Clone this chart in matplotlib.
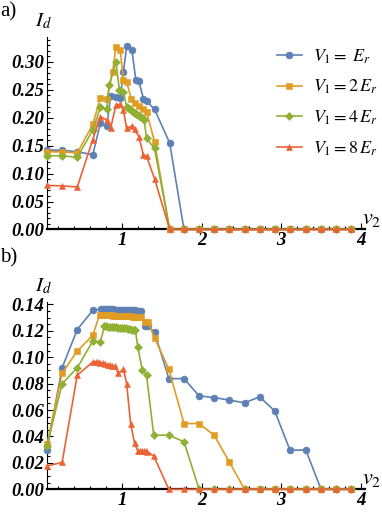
import matplotlib

matplotlib.use("Agg")

import matplotlib.pyplot as plt
from matplotlib.ticker import FixedLocator, MultipleLocator, FormatStrFormatter

plt.rcParams["mathtext.fontset"] = "stix"
plt.rcParams["font.family"] = ["Liberation Serif", "DejaVu Serif"]

COLORS = ["#5E81B5", "#E19C24", "#8FB032", "#EB6235"]
MARKERS = ["o", "s", "D", "^"]
MSIZES = [5.0, 4.2, 3.8, 4.6]
LABELS = [r"$V_1 = \ E_r$", r"$V_1 = 2\,E_r$", r"$V_1 = 4\,E_r$", r"$V_1 = 8\,E_r$"]

# tail of the v2 grid where every curve sits at zero
TAIL = [1.97, 2.16, 2.35, 2.54, 2.73, 2.92, 3.11, 3.31, 3.50, 3.69, 3.88]

# ---- panel a) ----
a_blue_x = [0.06, 0.25, 0.44, 0.635, 0.73, 0.81, 0.86, 0.925, 0.98, 1.02, 1.06, 1.125,
            1.175, 1.215, 1.27, 1.31, 1.41, 1.60, 1.78] + TAIL
a_blue_y = [0.142, 0.142, 0.139, 0.134, 0.190, 0.185, 0.239, 0.237, 0.236, 0.282, 0.328, 0.322,
            0.268, 0.265, 0.234, 0.230, 0.215, 0.155, 0.0] + [0.0] * len(TAIL)

a_orange_x = [0.06, 0.25, 0.44, 0.635, 0.73, 0.81, 0.885, 0.925, 0.98, 1.02, 1.06, 1.12,
              1.16, 1.215, 1.27, 1.31, 1.41, 1.60, 1.78] + TAIL
a_orange_y = [0.139, 0.139, 0.137, 0.188, 0.236, 0.233, 0.282, 0.327, 0.321, 0.268, 0.264, 0.233,
              0.226, 0.221, 0.215, 0.211, 0.157, 0.0, 0.0] + [0.0] * len(TAIL)

a_green_x = [0.06, 0.25, 0.44, 0.635, 0.73, 0.81, 0.84, 0.925, 0.97, 1.02, 1.06, 1.08,
             1.10, 1.12, 1.14, 1.16, 1.18, 1.20, 1.22, 1.24, 1.26, 1.28, 1.31, 1.41,
             1.60, 1.78] + TAIL
a_green_y = [0.132, 0.132, 0.129, 0.178, 0.219, 0.215, 0.258, 0.300, 0.249, 0.246, 0.219, 0.217,
             0.215, 0.213, 0.211, 0.209, 0.207, 0.205, 0.203, 0.201, 0.199, 0.196, 0.163, 0.145,
             0.0, 0.0] + [0.0] * len(TAIL)

a_red_x = [0.06, 0.25, 0.44, 0.635, 0.73, 0.81, 0.86, 0.925, 0.98, 1.02, 1.06, 1.125,
           1.16, 1.215, 1.27, 1.31, 1.41, 1.60, 1.78] + TAIL
a_red_y = [0.079, 0.078, 0.076, 0.161, 0.202, 0.196, 0.182, 0.222, 0.224, 0.213, 0.181, 0.185,
           0.179, 0.166, 0.133, 0.131, 0.091, 0.0, 0.0] + [0.0] * len(TAIL)

# ---- panel b) ----
b_blue_x = [0.06, 0.25, 0.44, 0.635, 0.74, 0.765, 0.79, 0.815, 0.84, 0.865, 0.89, 0.915,
            0.94, 0.965, 0.99, 1.015, 1.04, 1.065, 1.09, 1.115, 1.14, 1.165, 1.19, 1.215,
            1.24, 1.29, 1.33, 1.41, 1.59, 1.78] + TAIL
b_blue_y = [0.030, 0.092, 0.121, 0.1355, 0.1365, 0.1365, 0.1364, 0.1364, 0.1363, 0.1363, 0.1362, 0.1361,
            0.1361, 0.1360, 0.1360, 0.1359, 0.1358, 0.1358, 0.1357, 0.1356, 0.1355, 0.1355, 0.1354, 0.1353,
            0.1352, 0.1235, 0.1235, 0.119, 0.0838, 0.0838,
            0.0707, 0.0695, 0.0675, 0.0655, 0.0700, 0.0592, 0.0297, 0.0297, 0.0, 0.0, 0.0]

b_orange_x = [0.06, 0.25, 0.44, 0.635, 0.72, 0.745, 0.77, 0.795, 0.82, 0.845, 0.87, 0.895,
              0.92, 0.945, 0.97, 0.995, 1.02, 1.045, 1.07, 1.095, 1.12, 1.145, 1.17, 1.195,
              1.22, 1.245, 1.29, 1.33, 1.41, 1.59, 1.78] + TAIL
b_orange_y = [0.034, 0.088, 0.1047, 0.1166, 0.1322, 0.1321, 0.1320, 0.1320, 0.1319, 0.1318, 0.1317, 0.1316,
              0.1315, 0.1315, 0.1314, 0.1313, 0.1312, 0.1311, 0.1310, 0.1310, 0.1309, 0.1308, 0.1307, 0.1306,
              0.1306, 0.1305, 0.1266, 0.1266, 0.1148, 0.0909, 0.0498,
              0.0498, 0.0408, 0.0206, 0.0, 0.0, 0.0, 0.0, 0.0, 0.0, 0.0, 0.0]

b_green_x = [0.06, 0.25, 0.44, 0.635, 0.73, 0.78, 0.805, 0.83, 0.855, 0.88, 0.905, 0.93,
             0.955, 0.98, 1.005, 1.03, 1.055, 1.08, 1.105, 1.13, 1.155, 1.17, 1.20, 1.255,
             1.31, 1.40, 1.59, 1.78] + TAIL
b_green_y = [0.033, 0.080, 0.092, 0.1123, 0.1115, 0.1234, 0.1233, 0.1232, 0.1230, 0.1229, 0.1228, 0.1226,
             0.1225, 0.1223, 0.1222, 0.1220, 0.1218, 0.1216, 0.1213, 0.1210, 0.1207, 0.1203, 0.1078, 0.0906,
             0.0864, 0.041, 0.041, 0.036] + [0.0] * len(TAIL)

b_red_x = [0.06, 0.25, 0.44, 0.635, 0.67, 0.70, 0.73, 0.76, 0.79, 0.82, 0.85, 0.88,
           0.91, 0.955, 1.02, 1.06, 1.11, 1.16, 1.20, 1.225, 1.25, 1.275, 1.30, 1.32,
           1.40, 1.59, 1.78] + TAIL
b_red_y = [0.0176, 0.0204, 0.0864, 0.0964, 0.0966, 0.0962, 0.0960, 0.0955, 0.0950, 0.0945, 0.0940, 0.0935,
           0.0930, 0.0880, 0.0909, 0.0800, 0.0498, 0.0347, 0.0292, 0.0290, 0.0290, 0.0290, 0.0290, 0.0285,
           0.0252, 0.0, 0.0] + [0.0] * len(TAIL)

X_TICKS = [1, 2, 3, 4]
X_TICK_LABELS = ["1", "2", "3", "4"]


def style_axis(ax, ymax, ymajor, yminor):
    ax.set_xlim(0.06, 4.05)
    ax.set_ylim(0, ymax)
    for side in ["top", "right"]:
        ax.spines[side].set_visible(False)
    ax.spines["left"].set_linewidth(0.8)
    ax.spines["bottom"].set_linewidth(1.6)
    ax.xaxis.set_major_locator(FixedLocator(X_TICKS))
    ax.set_xticklabels(X_TICK_LABELS)
    ax.xaxis.set_minor_locator(MultipleLocator(0.2))
    ax.yaxis.set_major_locator(MultipleLocator(ymajor))
    ax.yaxis.set_minor_locator(MultipleLocator(yminor))
    ax.yaxis.set_major_formatter(FormatStrFormatter("%.2f"))
    ax.tick_params(which="both", direction="in", width=0.8)
    ax.tick_params(which="major", length=4, pad=2)
    ax.tick_params(which="minor", length=2)
    for lab in ax.get_xticklabels() + ax.get_yticklabels():
        lab.set_fontstyle("italic")
        lab.set_fontweight("bold")
        lab.set_fontsize(13.5)
    ax.text(-0.01, 1.03, r"$I_d$", transform=ax.transAxes, fontsize=15, ha="center", va="bottom")
    ax.text(0.99, 0.0, r"$v_2$", transform=ax.transAxes, fontsize=16, ha="left", va="bottom")


def draw_series(ax, series):
    handles = []
    for (xs, ys), color, marker, ms, label in zip(series, COLORS, MARKERS, MSIZES, LABELS):
        (h,) = ax.plot(xs, ys, color=color, marker=marker, markersize=ms, linewidth=1.2,
                       markeredgewidth=0.4, label=label, clip_on=False, zorder=3)
        handles.append(h)
    return handles


fig = plt.figure(figsize=(3.82, 5.18), dpi=100)
ax_a = fig.add_axes([0.123, 0.557, 0.832, 0.371])
ax_b = fig.add_axes([0.123, 0.0554, 0.832, 0.362])

handles = draw_series(ax_a, [(a_blue_x, a_blue_y), (a_orange_x, a_orange_y),
                             (a_green_x, a_green_y), (a_red_x, a_red_y)])
draw_series(ax_b, [(b_blue_x, b_blue_y), (b_orange_x, b_orange_y),
                   (b_green_x, b_green_y), (b_red_x, b_red_y)])

style_axis(ax_a, 0.344, 0.05, 0.01)
style_axis(ax_b, 0.142, 0.02, 0.005)

ax_a.legend(handles=handles, loc="upper left", bbox_to_anchor=(0.70, 0.985), frameon=False,
            fontsize=13, handlelength=1.4, handletextpad=0.6, labelspacing=0.68, borderaxespad=0)

fig.text(0.0, 0.995, "a)", fontsize=15, ha="left", va="top")
fig.text(0.0, 0.52, "b)", fontsize=15, ha="left", va="top")

fig.savefig("out.png", dpi=100)
